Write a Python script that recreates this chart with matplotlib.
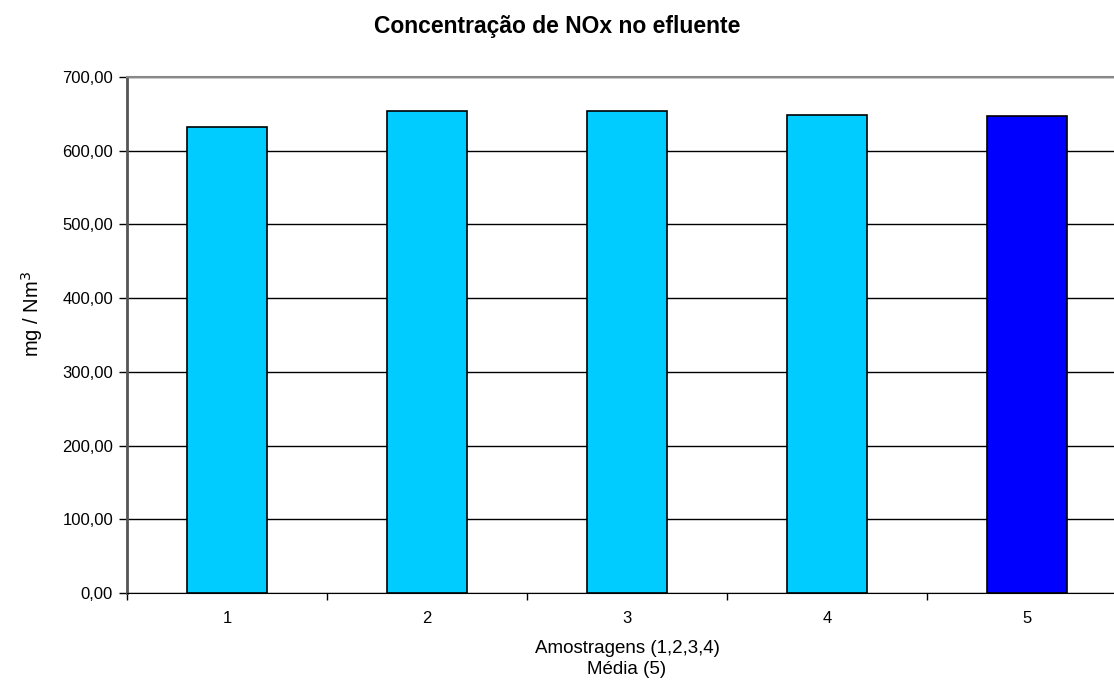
import matplotlib.pyplot as plt
import numpy as np

# Dados
amostras = ["1", "2", "3", "4", "5"]
valores = [632.0, 654.5, 654.5, 648.5, 647.0]
cores = ["#00CCFF", "#00CCFF", "#00CCFF", "#00CCFF", "#0000FF"]
yticks = [0, 100, 200, 300, 400, 500, 600, 700]

plt.rcParams['font.family'] = ['Liberation Sans', 'DejaVu Sans']

fig = plt.figure(figsize=(11.14, 6.81), dpi=100)
ax = fig.add_axes([127 / 1114, 88 / 681, 1000 / 1114, 516 / 681])

x = np.arange(1, len(amostras) + 1)
ax.bar(x, valores, width=0.4, color=cores, edgecolor='black', linewidth=1.2, zorder=3)

ax.set_xlim(0.5, 5.5)
ax.set_ylim(0, 700)

# Grade horizontal
ax.set_yticks(yticks)
ax.set_yticklabels([f"{v:.2f}".replace('.', ',') for v in yticks], fontsize=12)
ax.yaxis.grid(True, color='black', linewidth=1.0, zorder=0)

# Ticks do eixo x entre categorias, rótulos no centro
ax.set_xticks(np.arange(0.5, 6.0, 1.0))
ax.set_xticklabels([])
ax.set_xticks(x, minor=True)
ax.set_xticklabels(amostras, minor=True, fontsize=12)
ax.tick_params(axis='x', which='minor', length=0, pad=13)
ax.tick_params(axis='x', which='major', length=5, width=1, color='black', direction='out')
ax.tick_params(axis='y', length=6, width=1, color='black', direction='out', pad=4)

ax.spines['left'].set_color('#555555')
ax.spines['left'].set_linewidth(2)
ax.spines['top'].set_color('#888888')
ax.spines['top'].set_linewidth(1.5)
ax.spines['bottom'].set_color('black')
ax.spines['right'].set_visible(False)

ax.set_xlabel("Amostragens (1,2,3,4)\nMédia (5)", fontsize=13.5, labelpad=10, linespacing=1.3)
ax.set_ylabel("mg / Nm$^3$", fontsize=14.5)
ax.yaxis.set_label_coords(-0.082, 0.54)

fig.text(0.5, 1 - 27 / 681, "Concentração de NOx no efluente", ha='center', va='center',
         fontsize=16.5, fontweight='bold')

fig.savefig("out.png", dpi=100)
